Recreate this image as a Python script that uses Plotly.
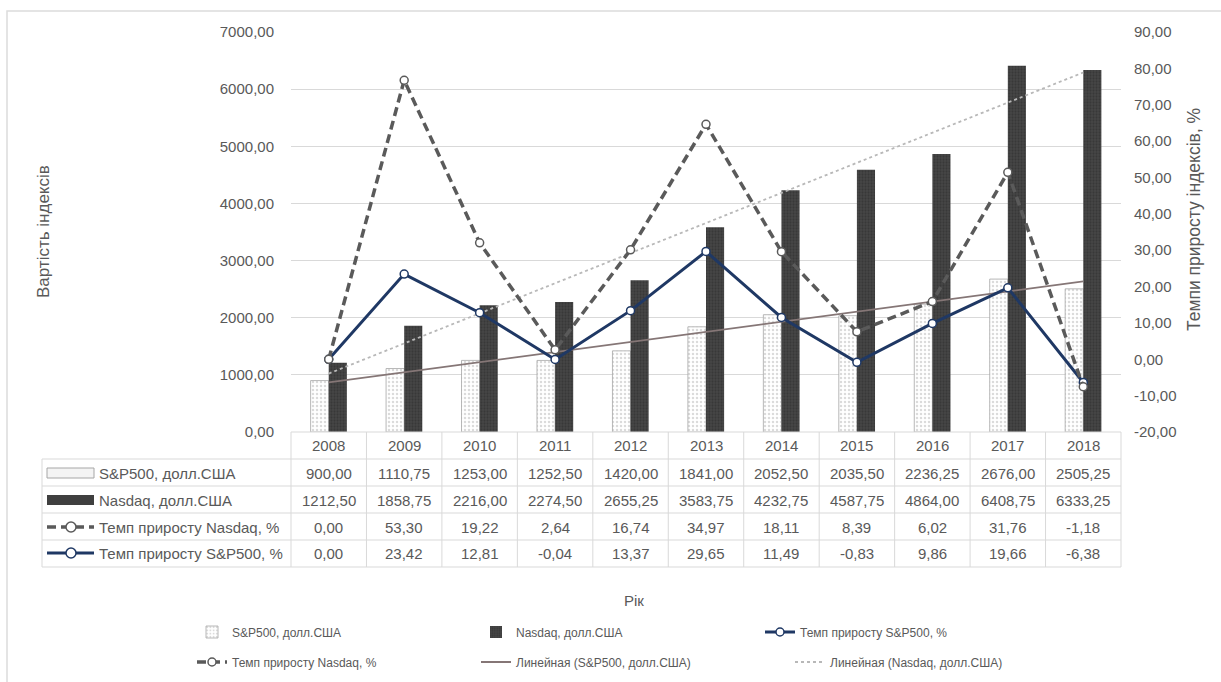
import numpy as np
import plotly.graph_objects as go

# ---------------- data ----------------
years = ["2008", "2009", "2010", "2011", "2012", "2013", "2014", "2015", "2016", "2017", "2018"]
sp500 = [900.00, 1110.75, 1253.00, 1252.50, 1420.00, 1841.00, 2052.50, 2035.50, 2236.25, 2676.00, 2505.25]
nasdaq = [1212.50, 1858.75, 2216.00, 2274.50, 2655.25, 3583.75, 4232.75, 4587.75, 4864.00, 6408.75, 6333.25]
growth_nasdaq = [0.00, 53.30, 19.22, 2.64, 16.74, 34.97, 18.11, 8.39, 6.02, 31.76, -1.18]
growth_sp500 = [0.00, 23.42, 12.81, -0.04, 13.37, 29.65, 11.49, -0.83, 9.86, 19.66, -6.38]

left_ticks = [0, 1000, 2000, 3000, 4000, 5000, 6000, 7000]
right_ticks = [-20, -10, 0, 10, 20, 30, 40, 50, 60, 70, 80, 90]

name_sp = "S&P500, долл.США"
name_nq = "Nasdaq, долл.США"
name_gnq = "Темп приросту Nasdaq, %"
name_gsp = "Темп приросту S&P500, %"
name_tsp = "Линейная (S&P500, долл.США)"
name_tnq = "Линейная (Nasdaq, долл.США)"


def fmt(v):
    return f"{v:.2f}".replace(".", ",")


# ---------------- geometry helpers (pixel -> paper) ----------------
W, H = 1221, 682
L, R, T, B = 291, 100, 32, 250
PW, PH = W - L - R, H - T - B


def px(xp):
    return (xp - L) / PW


def py(yp):
    return (T + PH - yp) / PH


FONT = "Liberation Sans, Arial, sans-serif"
TXT = "#595959"
GRID = "#d9d9d9"
NAVY = "#1f3864"
DGRAY = "#5a5a5a"

fig = go.Figure()

fig.add_trace(go.Bar(
    x=years, y=sp500, name=name_sp, legend="legend", legendrank=1,
    marker=dict(color="white", line=dict(color="#a6a6a6", width=0.8),
                pattern=dict(shape=".", fgcolor="#b5b5b5", bgcolor="white", size=4, solidity=0.3)),
))
fig.add_trace(go.Bar(
    x=years, y=nasdaq, name=name_nq, legend="legend", legendrank=2,
    marker=dict(color="#474747", line=dict(width=0),
                pattern=dict(shape=".", fgcolor="#2a2a2a", bgcolor="#474747", size=3, solidity=0.45)),
))

# trend lines (least squares over category index)
idx = np.arange(len(years))
k_sp, b_sp = np.polyfit(idx, sp500, 1)
k_nq, b_nq = np.polyfit(idx, nasdaq, 1)
fig.add_trace(go.Scatter(
    x=[years[0], years[-1]], y=[b_sp, b_sp + k_sp * idx[-1]], name=name_tsp, legend="legend2", legendrank=5,
    mode="lines", line=dict(color="#857676", width=1.8),
))
fig.add_trace(go.Scatter(
    x=[years[0], years[-1]], y=[b_nq, b_nq + k_nq * idx[-1]], name=name_tnq, legend="legend3", legendrank=6,
    mode="lines", line=dict(color="#b8b8b8", width=1.8, dash="dot"),
))

# stacked growth lines (Excel stacked line)
fig.add_trace(go.Scatter(
    x=years, y=growth_sp500, name=name_gsp, legend="legend", legendrank=3, yaxis="y2",
    stackgroup="g", fill="none", mode="lines+markers",
    line=dict(color=NAVY, width=3),
    marker=dict(symbol="circle", size=8, color="white", line=dict(color=NAVY, width=1.5)),
))
fig.add_trace(go.Scatter(
    x=years, y=growth_nasdaq, name=name_gnq, legend="legend2", legendrank=4, yaxis="y2",
    stackgroup="g", fill="none", mode="lines+markers",
    line=dict(color=DGRAY, width=3.5, dash="9px,5px"),
    marker=dict(symbol="circle", size=8, color="white", line=dict(color=DGRAY, width=1.5)),
))

# ---------------- table ----------------
shapes = []
annotations = []
row_y = [473, 500, 527, 553]
row_labels = [name_sp, name_nq, name_gnq, name_gsp]
row_values = [sp500, nasdaq, growth_nasdaq, growth_sp500]
n = len(years)


def note(xp, yp, text, size=15, xanchor="center", angle=0):
    annotations.append(dict(x=px(xp), y=py(yp), xref="paper", yref="paper", text=text, showarrow=False,
                            xanchor=xanchor, yanchor="middle", textangle=angle,
                            font=dict(size=size, color=TXT, family=FONT)))


# horizontal lines
shapes.append(dict(type="line", xref="paper", yref="paper", x0=px(291), x1=px(1121), y0=py(432), y1=py(432),
                   line=dict(color=GRID, width=1)))
for yl in [459, 486, 513, 540, 567]:
    shapes.append(dict(type="line", xref="paper", yref="paper", x0=px(42), x1=px(1121), y0=py(yl), y1=py(yl),
                       line=dict(color=GRID, width=1)))
# vertical lines
for k in range(n + 1):
    shapes.append(dict(type="line", xref="paper", yref="paper", x0=k / n, x1=k / n, y0=py(432), y1=py(567),
                       line=dict(color=GRID, width=1)))
shapes.append(dict(type="line", xref="paper", yref="paper", x0=px(42), x1=px(42), y0=py(459), y1=py(567),
                   line=dict(color=GRID, width=1)))


def col_center_px(i):
    return L + (i + 0.5) / n * PW


# year header
for i, yr in enumerate(years):
    note(col_center_px(i), 446, yr)
# rows
for ry, lab, vals in zip(row_y, row_labels, row_values):
    note(97, ry, lab, xanchor="left")
    for i, v in enumerate(vals):
        note(col_center_px(i), ry, fmt(v))

# legend keys in table
shapes.append(dict(type="rect", xref="paper", yref="paper", x0=px(47), x1=px(94), y0=py(478), y1=py(468),
                   fillcolor="#f4f4f4", line=dict(color="#a6a6a6", width=1)))
shapes.append(dict(type="rect", xref="paper", yref="paper", x0=px(47), x1=px(94), y0=py(505), y1=py(495),
                   fillcolor="#3f3f3f", line=dict(width=0)))
shapes.append(dict(type="line", xref="paper", yref="paper", x0=px(47), x1=px(94), y0=py(527), y1=py(527),
                   line=dict(color=DGRAY, width=3.5, dash="9px,5px")))
shapes.append(dict(type="circle", xref="paper", yref="paper", x0=px(66), x1=px(76), y0=py(532), y1=py(522),
                   fillcolor="white", line=dict(color=DGRAY, width=1.5)))
shapes.append(dict(type="line", xref="paper", yref="paper", x0=px(47), x1=px(94), y0=py(553), y1=py(553),
                   line=dict(color=NAVY, width=3)))
shapes.append(dict(type="circle", xref="paper", yref="paper", x0=px(66), x1=px(76), y0=py(558), y1=py(548),
                   fillcolor="white", line=dict(color=NAVY, width=1.5)))

# outer chart border
shapes.append(dict(type="rect", xref="paper", yref="paper", x0=px(7), x1=px(1240), y0=py(11), y1=py(700),
                   line=dict(color="#dcdcdc", width=1.5), layer="below"))

# axis titles
note(43, 232, "Вартість індексів", size=17, angle=-90)
note(1194, 220, "Темпи приросту індексів, %", size=17.5, angle=-90)
note(634, 600, "Рік", size=15)

legend_common = dict(orientation="h", xanchor="left", yanchor="middle",
                     entrywidth=239, entrywidthmode="pixels", itemwidth=30, bgcolor="rgba(0,0,0,0)",
                     font=dict(size=12, color=TXT, family=FONT), traceorder="normal")

fig.update_layout(
    width=W, height=H,
    margin=dict(l=L, r=R, t=T, b=B, autoexpand=False),
    paper_bgcolor="white", plot_bgcolor="white",
    font=dict(family=FONT, color=TXT),
    barmode="group", bargap=0.52, bargroupgap=0,
    xaxis=dict(type="category", categoryorder="array", categoryarray=years, range=[-0.5, n - 0.5],
               showticklabels=False, showgrid=False, zeroline=False, showline=False, ticks=""),
    yaxis=dict(range=[0, 7000], tickvals=left_ticks, ticktext=[fmt(v) for v in left_ticks],
               showgrid=True, gridcolor=GRID, gridwidth=1, zeroline=False, showline=False,
               ticks="outside", ticklen=13, tickcolor="rgba(0,0,0,0)",
               tickfont=dict(size=15, color=TXT, family=FONT)),
    yaxis2=dict(range=[-20, 90], tickvals=right_ticks, ticktext=[fmt(v) for v in right_ticks],
                overlaying="y", side="right", showgrid=False, zeroline=False, showline=False,
                ticks="outside", ticklen=9, tickcolor="rgba(0,0,0,0)",
                tickfont=dict(size=15, color=TXT, family=FONT)),
    legend=dict(x=px(192), y=py(632), **legend_common),
    legend2=dict(x=px(192), y=py(662), **legend_common),
    legend3=dict(x=px(790), y=py(662), **legend_common),
    shapes=shapes,
    annotations=annotations,
    showlegend=True,
)

fig.write_html("out.html")
